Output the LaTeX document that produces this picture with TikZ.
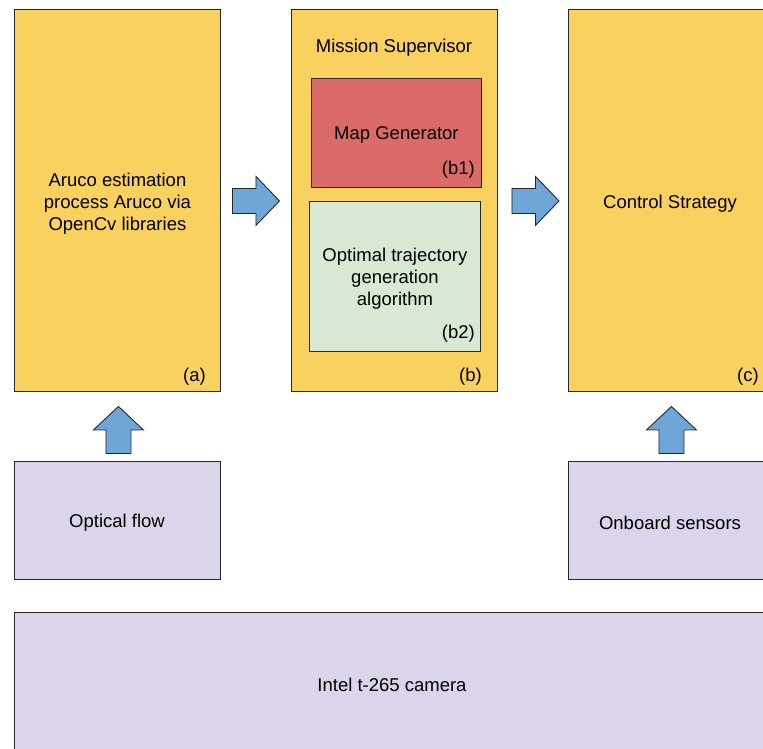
\documentclass[tikz,border=0pt]{standalone}
\usepackage{fontspec}
\setmainfont{Liberation Sans}
\usetikzlibrary{calc,positioning}
\definecolor{boxyellow}{RGB}{249,209,94}
\definecolor{boxred}{RGB}{218,107,104}
\definecolor{boxgreen}{RGB}{216,232,211}
\definecolor{boxpurple}{RGB}{219,212,234}
\definecolor{arrowblue}{RGB}{111,166,216}
\definecolor{edge}{RGB}{40,40,40}
\tikzset{
  block/.style={draw=edge, line width=0.9pt, minimum width=206pt, minimum height=382pt, inner sep=0pt, anchor=north west},
  yellowbox/.style={block, fill=boxyellow},
  purplebox/.style={block, fill=boxpurple, minimum height=118pt},
  blockarrow/.style={draw=edge, line width=0.9pt, fill=arrowblue, line join=miter},
  lbl/.style={font=\fontsize{18.5}{22}\selectfont, align=center, inner sep=0pt, yshift=-2pt},
  tag/.style={font=\fontsize{18.5}{22}\selectfont, inner sep=0pt, yshift=-2pt},
  rightarrow/.pic={\draw[blockarrow] (-23.5,-12.5) -- (0,-12.5) -- (0,-24.5) -- (23.5,0) -- (0,24.5) -- (0,12.5) -- (-23.5,12.5) -- cycle;},
  uparrow/.pic={\draw[blockarrow] (-12.5,23.5) -- (-12.5,0) -- (-25,0) -- (0,-23.5) -- (25,0) -- (12.5,0) -- (12.5,23.5) -- cycle;}
}
\begin{document}
\begin{tikzpicture}[x=1pt,y=-1pt]
\useasboundingbox (0,0) rectangle (763,749);
\clip (0,0) rectangle (763,749);
\fill[white] (0,0) rectangle (763,749);

% main processing blocks
\node[yellowbox] (a) at (14,9) {};
\node[yellowbox] (b) at (291,9) {};
\node[yellowbox] (c) at (568,9) {};

% sub-blocks of the mission supervisor
\node[draw=edge, line width=0.9pt, fill=boxred, minimum width=170pt, minimum height=109pt, anchor=north west] (b1) at (311,78) {};
\node[draw=edge, line width=0.9pt, fill=boxgreen, minimum width=171pt, minimum height=150pt, anchor=north west] (b2) at (309,201) {};

% sensor blocks
\node[purplebox] (opt) at (14,461) {};
\node[purplebox] (onb) at (568,461) {};
\node[draw=edge, line width=0.9pt, fill=boxpurple, minimum width=760pt, minimum height=160pt, anchor=north west, inner sep=0pt] (cam) at (14,612) {};

% texts
\node[lbl, yshift=1pt] at ($(a.center)+(0,2)$) {Aruco estimation\\process Aruco via\\OpenCv libraries};
\node[tag, anchor=east] at (206,375) {(a)};
\node[lbl] at (394,46) {Mission Supervisor};
\node[lbl] at ($(b1.center)+(0,0.5)$) {Map Generator};
\node[tag, anchor=east] at (475,168) {(b1)};
\node[lbl] at ($(b2.center)+(0,0)$) {Optimal trajectory\\generation\\algorithm};
\node[tag, anchor=east] at (475,332) {(b2)};
\node[tag, anchor=east] at (482,375) {(b)};
\node[lbl] at (670,202) {Control Strategy};
\node[tag, anchor=east] at (759,375) {(c)};
\node[lbl] at (117,521) {Optical flow};
\node[lbl] at (670,521) {Onboard sensors};
\node[lbl] at (392,683) {Intel t-265 camera};

% block arrows between stages
\pic at ($(a.east)!0.5!(b.west)+(0,0.5)$) {rightarrow};
\pic at ($(b.east)!0.5!(c.west)+(2.5,0.5)$) {rightarrow};
\pic at ($(a.south)!0.5!(opt.north)+(1,3.5)$) {uparrow};
\pic at ($(c.south)!0.5!(onb.north)+(0,3.5)$) {uparrow};
\end{tikzpicture}
\end{document}
